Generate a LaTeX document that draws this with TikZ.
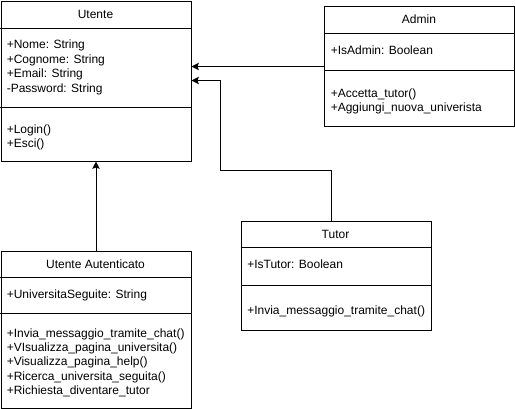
\documentclass[tikz,border=0pt]{standalone}
\usepackage{fontspec}
\setmainfont{Liberation Sans}
\usetikzlibrary{arrows.meta}
\tikzset{
  classbox/.style={draw, line width=0.75pt, anchor=north west, inner sep=0pt, minimum width=142.5pt},
  classtitle/.style={inner sep=0.75pt, font=\fontsize{9}{10.8}\selectfont},
  member/.style={anchor=west, inner sep=0.75pt, text height=6.5pt, text depth=0pt, font=\fontsize{9}{10.8}\selectfont},
  sepline/.style={line width=0.75pt},
  inherit/.style={line width=0.75pt, -{Stealth[length=5.5pt,width=5.5pt,inset=1pt]}},
}

\begin{document}
\begin{tikzpicture}[x=0.75pt,y=0.75pt,yscale=-1,xscale=1]
\useasboundingbox (0,0) rectangle (515,408);

%Class: Utente
\node[classbox, minimum height=120pt] (utente) at (0.5,0.5) {};
\draw[sepline] (0.5,28) -- (190.5,28);
\draw[sepline] (0.5,107) -- (190.5,107);
% Text Node
\node[classtitle] (utente-title) at (95.5,14.25) {Utente};
\foreach \txt [count=\i] in {+Nome: String, +Cognome: String, +Email: String, -Password: String}
  \node[member] (utente-attr-\i) at (5.5,{30.1+14.4*\i}) {\txt};
\foreach \txt [count=\i] in {+Login(), +Esci()}
  \node[member] (utente-op-\i) at (5.5,{114.3+14.4*\i}) {\txt};

%Class: Admin
\node[classbox, minimum height=90pt] (admin) at (324,6) {};
\draw[sepline] (324,33) -- (514,33);
\draw[sepline] (324,70) -- (514,70);
% Text Node
\node[classtitle] (admin-title) at (419,19.5) {Admin};
\node[member] (admin-attr-1) at (329.5,50.5) {+IsAdmin: Boolean};
\foreach \txt [count=\i] in {+Accetta\_tutor(), +Aggiungi\_nuova\_univerista}
  \node[member] (admin-op-\i) at (329.5,{78.8+14.4*\i}) {\txt};

%Class: Tutor
\node[classbox, minimum height=82.1pt] (tutor) at (240.5,220.5) {};
\draw[sepline] (240.5,247.5) -- (430.5,247.5);
\draw[sepline] (240.5,285) -- (430.5,285);
% Text Node
\node[classtitle] (tutor-title) at (335.5,234) {Tutor};
\node[member] (tutor-attr-1) at (246,264.5) {+IsTutor: Boolean};
\node[member] (tutor-op-1) at (246,310) {+Invia\_messaggio\_tramite\_chat()};

%Class: Utente Autenticato
\node[classbox, minimum height=117.75pt] (utenteaut) at (0.5,250.5) {};
\draw[sepline] (0.5,277) -- (190.5,277);
\draw[sepline] (0.5,313) -- (190.5,313);
% Text Node
\node[classtitle] (utenteaut-title) at (95.5,264) {Utente Autenticato};
\node[member] (utenteaut-attr-1) at (5.5,294) {+UniversitaSeguite: String};
\foreach \txt [count=\i] in {+Invia\_messaggio\_tramite\_chat(), +VIsualizza\_pagina\_universita(), +Visualizza\_pagina\_help(), +Ricerca\_universita\_seguita(), +Richiesta\_diventare\_tutor}
  \node[member] (utenteaut-op-\i) at (5.5,{318.7+14.3*\i}) {\txt};

%Inheritance
\draw[inherit] (admin.west) -- (admin.west -| utente.east);
\coordinate (tutor-bend) at (220.5,80.5);
\draw[inherit] ([xshift=-3.5pt]tutor.north) -- ++(0,-50) -| (tutor-bend) -- (utente.east |- tutor-bend);
\draw[inherit] (utenteaut.north) -- (utente.south);

\end{tikzpicture}
\end{document}
